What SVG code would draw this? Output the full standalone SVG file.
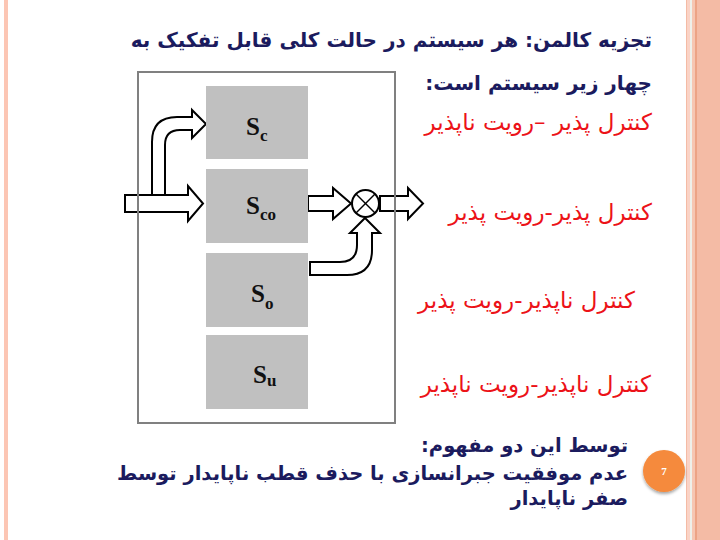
<svg xmlns="http://www.w3.org/2000/svg" width="720" height="540" viewBox="0 0 720 540">
<defs>
<style>
.title{font-family:"DejaVu Sans","Noto Sans",sans-serif;font-weight:bold;font-size:20px;fill:#1b1b5e;text-anchor:end}
.bot{font-family:"DejaVu Sans","Noto Sans",sans-serif;font-weight:bold;font-size:19.5px;fill:#1b1b5e;text-anchor:end}
.red{font-family:"DejaVu Sans","Noto Sans",sans-serif;font-size:23px;fill:#ec1218;text-anchor:end}
.blk{fill:#c0c0c0}
.lbl{font-family:"Liberation Serif",serif;font-weight:bold;font-size:25px;fill:#111}
.sub{font-size:17px}
.arr{fill:none;stroke:#000;stroke-width:2;stroke-linejoin:miter}
</style>
<filter id="sh" x="-30%" y="-30%" width="160%" height="170%">
<feDropShadow dx="0" dy="2" stdDeviation="1.5" flood-color="#000" flood-opacity="0.35"/>
</filter>
</defs>
<rect width="720" height="540" fill="#fff"/>
<g id="decor">
<rect x="4" y="0" width="4" height="540" fill="#fcc6b4"/>
<rect x="686" y="0" width="34" height="540" fill="#f4bba5"/>
<rect x="687" y="0" width="3" height="540" fill="#fad3c6"/>
<rect x="690" y="0" width="2" height="540" fill="#eef0ea"/>
<rect x="692" y="0" width="3" height="540" fill="#f6c6b2"/>
<rect x="695" y="0" width="2" height="540" fill="#eca385"/>
</g>
<g id="connectors">
<polygon class="arr" points="125,195 188,195 188,186 203,203.5 188,221 188,212 125,212"/>
<path class="arr" d="M152,195 L152,142 Q152,117 177,117 L192,117 L192,110 L206,124 L192,138 L192,130 L180,130 Q165,130 165,145 L165,195"/>
<polygon class="arr" points="308,196 333,196 333,188 351,203.5 333,219 333,211 308,211"/>
<polygon class="arr" points="380,196 408,196 408,188 423,203.5 408,219 408,211 380,211"/>
<path class="arr" d="M310,262 L340,262 Q357,262 357,245 L357,233 L350,233 L365,218 L380,233 L372,233 L372,250 Q372,275 347,275 L310,275 Z"/>
</g>
<g id="frame">
<rect x="138" y="72" width="257" height="351" fill="none" stroke="#808080" stroke-width="2"/>
</g>
<g id="Sc">
<rect class="blk" x="206" y="86" width="102" height="73"/>
<text class="lbl" x="246" y="135">S<tspan class="sub" dy="6">c</tspan></text>
</g>
<g id="Sco">
<rect class="blk" x="206" y="169" width="102" height="74"/>
<text class="lbl" x="246" y="214">S<tspan class="sub" dy="6">co</tspan></text>
</g>
<g id="So">
<rect class="blk" x="206" y="253" width="102" height="74"/>
<text class="lbl" x="251" y="302">S<tspan class="sub" dy="7">o</tspan></text>
</g>
<g id="Su">
<rect class="blk" x="206" y="335" width="102" height="74"/>
<text class="lbl" x="253" y="383">S<tspan class="sub" dy="3">u</tspan></text>
</g>
<g id="mult">
<circle cx="365.5" cy="203.5" r="13.5" fill="#fff" stroke="#000" stroke-width="2"/>
<line x1="356" y1="194" x2="375" y2="213" stroke="#000" stroke-width="1.5"/>
<line x1="375" y1="194" x2="356" y2="213" stroke="#000" stroke-width="1.5"/>
</g>
<g id="texts">
<text class="title" x="652" y="47">تجزیه کالمن: هر سیستم در حالت کلی قابل تفکیک به&#x200F;</text>
<text class="title" x="652" y="90">چهار زیر سیستم است:&#x200F;</text>
<text class="red" x="652" y="130">کنترل پذیر –رویت ناپذیر&#x200F;</text>
<text class="red" x="652" y="220">کنترل پذیر-رویت پذیر&#x200F;</text>
<text class="red" x="635" y="308">کنترل ناپذیر-رویت پذیر&#x200F;</text>
<text class="red" x="651" y="392">کنترل ناپذیر-رویت ناپذیر&#x200F;</text>
<text class="bot" x="628" y="452">توسط این دو مفهوم:&#x200F;</text>
<text class="bot" x="628" y="480">عدم موفقیت جبرانسازی با حذف قطب ناپایدار توسط&#x200F;</text>
<text class="bot" x="628" y="505">صفر ناپایدار&#x200F;</text>
</g>
<g id="page">
<circle cx="664" cy="471" r="21" fill="#f58a3c" filter="url(#sh)"/>
<text x="664" y="475" text-anchor="middle" font-family="Liberation Serif,serif" font-weight="bold" font-size="11" fill="#fff">7</text>
</g>
</svg>
